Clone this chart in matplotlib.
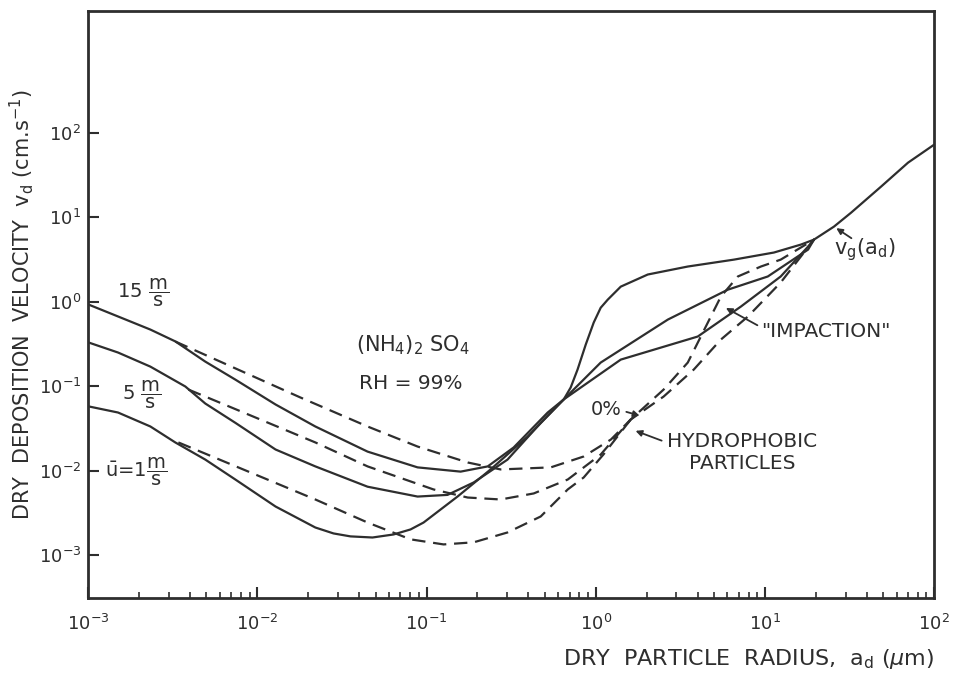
import numpy as np
import matplotlib.pyplot as plt

# RH = 99 %, solid curves (particle radius in um, deposition velocity in cm/s)
x_15 = [1e-3, 1.5e-3, 2.33e-3, 3.27e-3, 4.92e-3, 7.41e-3, 0.0128, 0.022, 0.0448, 0.0885, 0.159,
        0.23, 0.327, 0.52, 0.647, 0.711, 0.781, 0.873, 0.973, 1.07, 1.178, 1.406, 2.03, 3.5,
        6.56, 11.3, 16.3, 19.5]
y_15 = [0.93, 0.67, 0.469, 0.34, 0.196, 0.12, 0.061, 0.0335, 0.0169, 0.011, 0.0098,
        0.0113, 0.0189, 0.049, 0.07, 0.0968, 0.158, 0.312, 0.568, 0.85, 1.06, 1.51, 2.10, 2.61,
        3.15, 3.82, 4.74, 5.43]

x_5 = [1e-3, 1.5e-3, 2.33e-3, 3.75e-3, 4.92e-3, 7.41e-3, 0.0128, 0.022, 0.0448, 0.0885, 0.133,
       0.19, 0.301, 0.473, 0.647, 1.07, 2.67, 6.04, 10.4, 18.0, 19.5]
y_5 = [0.331, 0.251, 0.171, 0.0995, 0.0626, 0.037, 0.0179, 0.0113, 0.0065, 0.00497, 0.0052,
       0.0073, 0.0136, 0.037, 0.07, 0.191, 0.616, 1.39, 1.99, 4.14, 5.43]

x_1 = [1e-3, 1.5e-3, 2.33e-3, 3.27e-3, 4.92e-3, 7.41e-3, 0.0128, 0.022, 0.0282, 0.0355, 0.0479,
       0.0638, 0.0804, 0.096, 0.153, 0.239, 0.396, 0.647, 1.406, 4.01, 7.21, 12.4, 18.0, 19.5]
y_1 = [0.058, 0.049, 0.0335, 0.0217, 0.0136, 0.0079, 0.00379, 0.00214, 0.00182, 0.00168, 0.00163,
       0.00177, 0.00203, 0.00245, 0.005, 0.0104, 0.0255, 0.07, 0.207, 0.388, 0.877, 1.99, 4.49, 5.43]

# gravitational settling v_g(a_d)
vg_x = [19.5, 25.6, 32.3, 48.6, 70.2, 100]
vg_y = [5.43, 7.74, 11.3, 23, 44.2, 72]

# 0 % / hydrophobic particles, dashed curves
xd_15 = [3.27e-3, 0.0179, 0.0448, 0.0885, 0.175, 0.274, 0.542, 0.849, 1.23, 1.61, 2.52, 3.5,
         4.6, 5.49, 6.92, 9.47, 12.4, 19.5]
yd_15 = [0.339, 0.074, 0.0335, 0.0194, 0.01257, 0.0104, 0.011, 0.0148, 0.0235, 0.0405, 0.0916, 0.191,
         0.568, 1.15, 1.99, 2.61, 3.15, 5.43]

xd_5 = [3.91e-3, 0.022, 0.0448, 0.11, 0.175, 0.274, 0.43, 0.683, 1.07, 1.61, 2.52, 3.8,
        5.49, 7.93, 12.4, 16.3, 19.5]
yd_5 = [0.0916, 0.0217, 0.0113, 0.00603, 0.00484, 0.00459, 0.00541, 0.0079, 0.0156, 0.0405, 0.0757, 0.158,
        0.357, 0.668, 1.69, 3.42, 5.43]

xd_1 = [3.41e-3, 0.022, 0.0448, 0.0804, 0.126, 0.19, 0.301, 0.473, 0.683, 0.849, 1.11, 1.61]
yd_1 = [0.0217, 0.00459, 0.00245, 0.00155, 0.00135, 0.00143, 0.00187, 0.00289, 0.00603, 0.00836, 0.0156, 0.0405]

xticks = [1e-3, 1e-2, 1e-1, 1e0, 1e1, 1e2]
yticks = [1e-3, 1e-2, 1e-1, 1e0, 1e1, 1e2]

ink = '#2e2e2e'
plt.rcParams['mathtext.fontset'] = 'dejavusans'
plt.rcParams['font.family'] = ['DejaVu Sans']

fig = plt.figure(figsize=(9.59, 6.8), dpi=100)
ax = fig.add_axes([0.092, 0.121, 0.882, 0.863])

for xs, ys in [(x_15, y_15), (x_5, y_5), (x_1, y_1), (vg_x, vg_y)]:
    ax.plot(xs, ys, color=ink, lw=1.6, solid_joinstyle='round', solid_capstyle='round')
for xs, ys in [(xd_15, yd_15), (xd_5, yd_5), (xd_1, yd_1)]:
    ax.plot(xs, ys, color=ink, lw=1.6, dashes=(6, 3.5), dash_joinstyle='round')

ax.set_xscale('log')
ax.set_yscale('log')
ax.set_xlim(1e-3, 1e2)
ax.set_ylim(10**-3.5, 10**3.44)
ax.set_xticks(xticks)
ax.set_yticks(yticks)
ax.yaxis.set_minor_locator(plt.NullLocator())

ax.tick_params(which='major', direction='in', length=8, width=1.5, color=ink,
               labelsize=13, labelcolor=ink)
ax.tick_params(which='minor', direction='in', length=4, width=1.2, color=ink)
ax.tick_params(axis='x', pad=12)
ax.tick_params(axis='y', pad=5)
for s in ax.spines.values():
    s.set_linewidth(2)
    s.set_color(ink)

ax.set_ylabel(r'DRY  DEPOSITION  VELOCITY  $\mathrm{v_d}$ (cm.s$^{-1}$)', fontsize=15,
              color=ink)
ax.yaxis.set_label_coords(-0.062, 0.5)
ax.set_xlabel(r'DRY  PARTICLE  RADIUS,  $\mathrm{a_d}$ ($\mu$m)', fontsize=16, color=ink,
              loc='right', labelpad=9)

# curve labels
tk = dict(transform=ax.transAxes, color=ink, ha='center', va='center')
ax.text(0.065, 0.520, r'15 $\dfrac{\mathrm{m}}{\mathrm{s}}$', fontsize=14, **tk)
ax.text(0.063, 0.346, r'5 $\dfrac{\mathrm{m}}{\mathrm{s}}$', fontsize=14, **tk)
ax.text(0.057, 0.215, r'$\bar{\mathrm{u}}$=1$\dfrac{\mathrm{m}}{\mathrm{s}}$', fontsize=14, **tk)
ax.text(0.384, 0.431, r'(NH$_4$)$_2$ SO$_4$', fontsize=15, **tk)
ax.text(0.381, 0.365, 'RH = 99%', fontsize=14.5, **tk)
ax.text(0.612, 0.320, '0%', fontsize=14, **tk)
ax.text(0.773, 0.247, 'HYDROPHOBIC\nPARTICLES', fontsize=14.5, linespacing=1.2, **tk)
ax.text(0.872, 0.453, '"IMPACTION"', fontsize=14.5, **tk)
ax.text(0.918, 0.593, r'$\mathrm{v_g(a_d)}$', fontsize=15, **tk)

arr = dict(arrowstyle='-|>', color=ink, lw=1.3, mutation_scale=9)
ax.annotate('', xy=(vg_x[1], vg_y[1]), xytext=(0.905, 0.610), textcoords='axes fraction',
            arrowprops=arr)
ax.annotate('', xy=(0.751, 0.496), xytext=(0.794, 0.462), xycoords='axes fraction',
            arrowprops=arr)
ax.annotate('', xy=(0.644, 0.286), xytext=(0.681, 0.266), xycoords='axes fraction',
            arrowprops=arr)
ax.annotate('', xy=(0.655, 0.309), xytext=(0.633, 0.318), xycoords='axes fraction',
            arrowprops=arr)

fig.savefig('out.png', dpi=100, facecolor='white')
